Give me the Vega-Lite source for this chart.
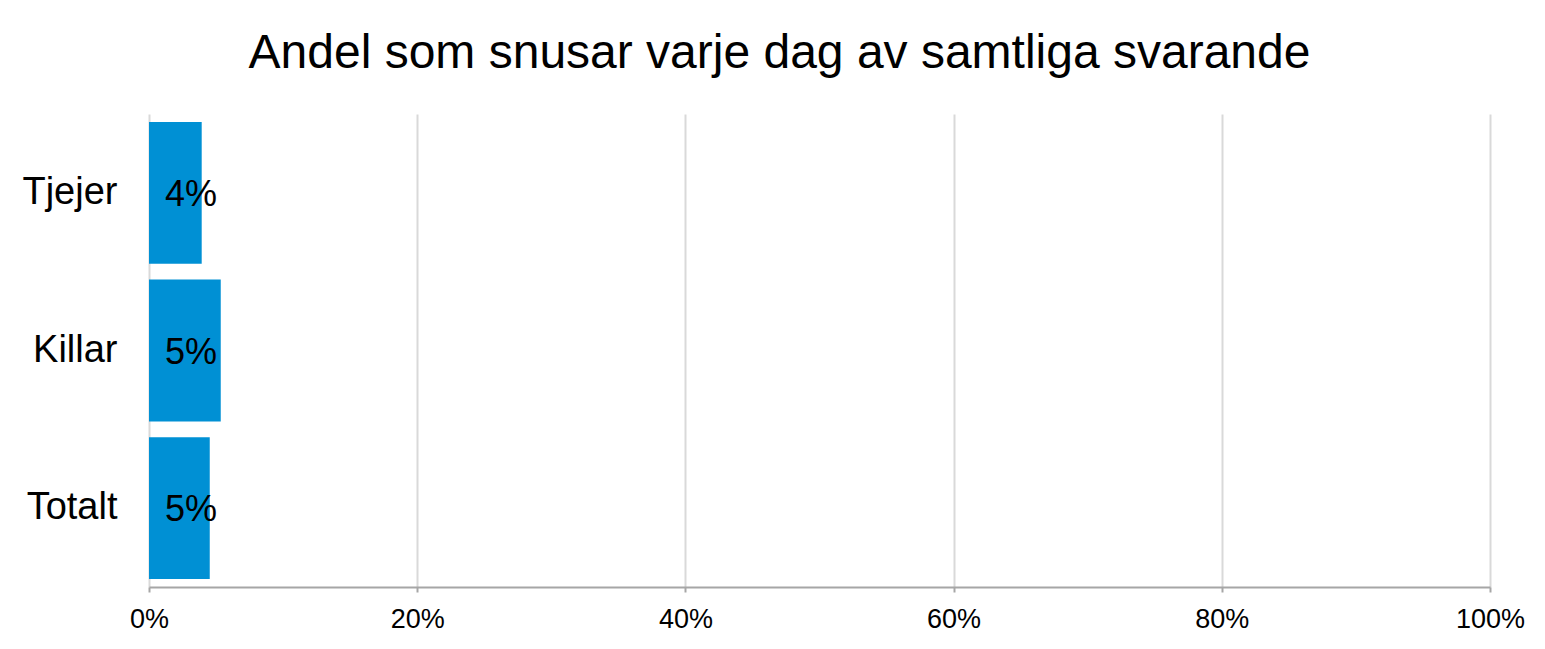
{
  "$schema": "https://vega.github.io/schema/vega-lite/v6.json",
  "autosize": "none",
  "width": 1341,
  "height": 473,
  "padding": {"left": 149, "top": 114, "right": 55, "bottom": 62},
  "background": "white",
  "title": {
    "text": "Andel som snusar varje dag av samtliga svarande",
    "font": "Liberation Sans",
    "fontSize": 48,
    "fontWeight": "normal",
    "color": "#000000",
    "anchor": "middle",
    "dx": -40,
    "offset": 36
  },
  "data": {
    "values": [
      {"grupp": "Tjejer", "andel": 0.0393},
      {"grupp": "Killar", "andel": 0.0535},
      {"grupp": "Totalt", "andel": 0.0453}
    ]
  },
  "config": {
    "view": {"stroke": null},
    "font": "Liberation Sans"
  },
  "encoding": {
    "y": {
      "field": "grupp",
      "type": "nominal",
      "sort": ["Tjejer", "Killar", "Totalt"],
      "scale": {"paddingInner": 0.1, "paddingOuter": 0.05},
      "axis": {
        "title": null,
        "domain": false,
        "ticks": false,
        "labelFont": "Liberation Sans",
        "labelFontSize": 38,
        "labelColor": "#000000",
        "labelPadding": 32
      }
    }
  },
  "layer": [
    {
      "mark": {"type": "bar", "color": "#0090d4"},
      "encoding": {
        "x": {
          "field": "andel",
          "type": "quantitative",
          "scale": {"domain": [0, 1]},
          "axis": {
            "title": null,
            "values": [0, 0.2, 0.4, 0.6, 0.8, 1],
            "format": ".0%",
            "grid": true,
            "gridColor": "#d9d9d9",
            "gridWidth": 2,
            "domainColor": "#a6a6a6",
            "domainWidth": 2,
            "tickColor": "#a6a6a6",
            "tickWidth": 2,
            "tickSize": 5,
            "labelFlush": false,
            "labelFont": "Liberation Sans",
            "labelFontSize": 27,
            "labelColor": "#000000",
            "labelPadding": 14
          }
        }
      }
    },
    {
      "mark": {"type": "text", "align": "left", "baseline": "middle", "dx": 16, "dy": 2, "fontSize": 36, "font": "Liberation Sans", "color": "#000000"},
      "encoding": {
        "x": {"datum": 0, "type": "quantitative"},
        "text": {"field": "andel", "type": "quantitative", "format": ".0%"}
      }
    }
  ]
}
